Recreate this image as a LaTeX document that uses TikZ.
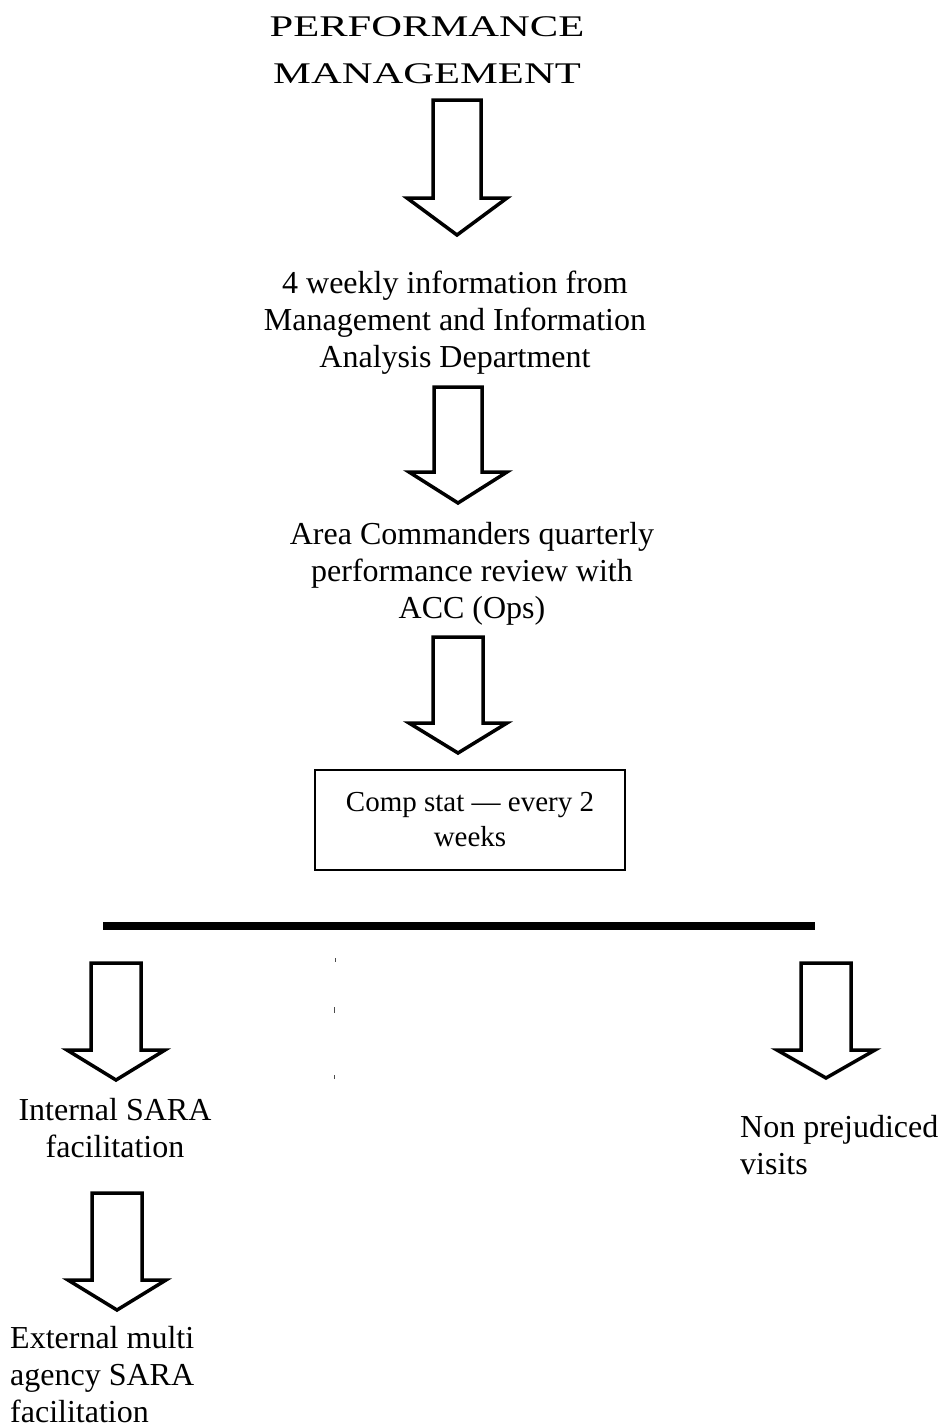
\documentclass[tikz,border=0pt]{standalone}
\usepackage{fontspec}
\setmainfont{Liberation Serif}
\usepackage{graphicx}
\newcommand\BlockArrow[6]{% cx, top, shaft bottom, tip, shaft half width, head half width
  \draw[blockarrow] (#1-#5,#2) -- (#1+#5,#2) -- (#1+#5,#3) -- (#1+#6,#3) -- (#1,#4)
    -- (#1-#6,#3) -- (#1-#5,#3) -- cycle;}
\tikzset{
  blockarrow/.style={draw=black, fill=white, line width=3.5pt, line join=miter},
  bodytext/.style={inner sep=0pt, font=\fontsize{32}{37}\selectfont},
  titletext/.style={inner sep=0pt, align=center, font=\fontsize{30}{47}\selectfont},
  compbox/.style={draw=black, line width=2pt, minimum width=310pt, minimum height=100pt,
    align=center, inner sep=0pt, font=\fontsize{29}{35}\selectfont},
  speck/.style={line width=1pt, black!70}
}
\begin{document}
\begin{tikzpicture}[x=1pt,y=-1pt]
\useasboundingbox (0,0) rectangle (940,1427);
\node[titletext, anchor=base] (title) at (427,83)
  {\scalebox{1.42}[1]{PERFORMANCE}\\\scalebox{1.42}[1]{MANAGEMENT}};
\BlockArrow{457}{100}{198}{235}{24}{50}
\node[bodytext, align=center, anchor=base] (info) at (455,367)
  {4 weekly information from\\Management and Information\\Analysis Department};
\BlockArrow{458}{387}{472}{503}{24}{49}
\node[bodytext, align=center, anchor=base] (area) at (472,618)
  {Area Commanders quarterly\\performance review with\\ACC (Ops)};
\BlockArrow{458}{637}{723}{753}{25}{49}
\node[compbox] (comp) at (470,820) {Comp stat --- every 2\\weeks};
\coordinate (barL) at (103,926);
\coordinate (barR) at (815,926);
\draw[line width=8pt] (barL) -- (barR);
\draw[speck] (335,958) -- (335,962);
\draw[speck] (334,1007) -- (334,1013);
\draw[speck] (334,1075) -- (334,1079);
\BlockArrow{116}{963}{1050}{1080}{25}{49}
\node[bodytext, align=center, anchor=base] (internal) at (115,1157)
  {Internal SARA\\facilitation};
\BlockArrow{117}{1193}{1280}{1310}{25}{49}
\node[bodytext, align=left, anchor=base west] (external) at (10,1422)
  {External multi\\agency SARA\\facilitation};
\BlockArrow{826}{963}{1050}{1078}{25}{49}
\node[bodytext, align=left, anchor=base west] (nonprej) at (740,1174)
  {Non prejudiced\\visits};
\end{tikzpicture}
\end{document}
